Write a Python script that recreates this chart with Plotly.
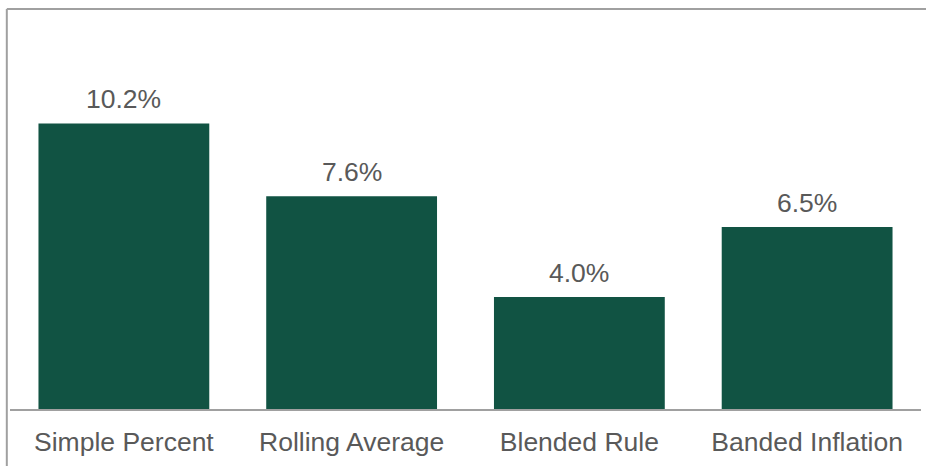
import plotly.graph_objects as go

# Category names and their percentage values
categories = ["Simple Percent", "Rolling Average", "Blended Rule", "Banded Inflation"]
values = [10.2, 7.6, 4.0, 6.5]
value_labels = [f"{v:.1f}%" for v in values]

BAR_COLOR = "#115343"
TEXT_COLOR = "#595959"
FRAME_COLOR = "#a0a0a0"
FONT = "Liberation Sans, Arial, sans-serif"

fig = go.Figure(
    go.Bar(
        x=categories,
        y=values,
        marker=dict(color=BAR_COLOR, line=dict(width=0)),
        width=0.75,
        hoverinfo="skip",
    )
)

# Value labels above each bar
for cat, v, lab in zip(categories, values, value_labels):
    fig.add_annotation(
        x=cat, y=v, text=lab, showarrow=False,
        yanchor="bottom", yshift=7,
        font=dict(family=FONT, size=26.5, color=TEXT_COLOR),
    )

# Frame lines on the left and top edges of the chart
fig.add_shape(type="line", xref="paper", yref="paper",
              x0=-0.0035, x1=-0.0035, y0=1.0, y1=-0.2,
              line=dict(color=FRAME_COLOR, width=2))
fig.add_shape(type="line", xref="paper", yref="paper",
              x0=-0.0035, x1=1.01, y0=1.0, y1=1.0,
              line=dict(color=FRAME_COLOR, width=2))

fig.update_layout(
    width=926, height=466,
    margin=dict(l=10, r=5, t=9, b=57),
    paper_bgcolor="white", plot_bgcolor="white",
    showlegend=False,
    bargap=0.25,
    font=dict(family=FONT, color=TEXT_COLOR),
)
fig.update_xaxes(
    showline=True, linecolor=FRAME_COLOR, linewidth=2,
    showgrid=False, ticks="",
    tickfont=dict(family=FONT, size=26.5, color=TEXT_COLOR),
    ticklabelstandoff=8,
)
fig.update_yaxes(
    range=[0, 14.29], visible=False, showgrid=False, zeroline=False,
)

fig.write_html("out.html")
